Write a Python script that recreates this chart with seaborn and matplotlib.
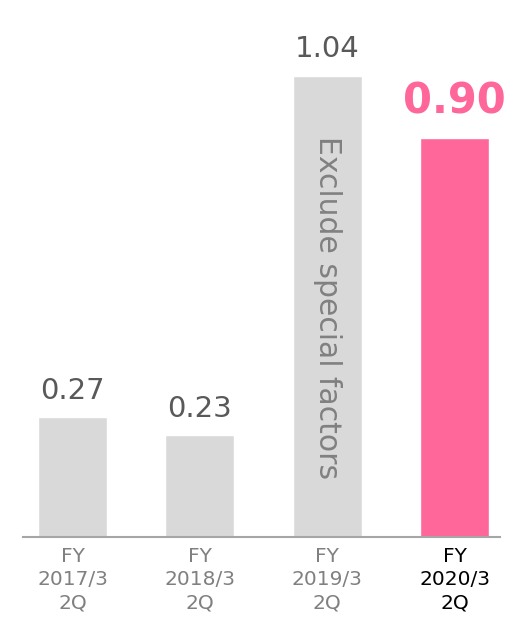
import matplotlib
matplotlib.use("Agg")
import matplotlib.pyplot as plt
import seaborn as sns
import pandas as pd

# Values
categories = ["FY\n2017/3\n2Q", "FY\n2018/3\n2Q", "FY\n2019/3\n2Q", "FY\n2020/3\n2Q"]
values = [0.27, 0.23, 1.04, 0.90]
value_labels = ["0.27", "0.23", "1.04", "0.90"]
note = "Exclude special factors"

gray_bar = "#d9d9d9"
pink = "#ff6699"
bar_colors = [gray_bar, gray_bar, gray_bar, pink]

sns.set_style("white")
plt.rcParams['font.family'] = ['DejaVu Sans']

df = pd.DataFrame({"period": categories, "eps": values})

fig = plt.figure(figsize=(5.22, 6.24), dpi=100)
ax = fig.add_axes([0.044, 0.1394, 0.914, 0.8606])

sns.barplot(data=df, x="period", y="eps", hue="period", palette=bar_colors,
            width=0.542, legend=False, ax=ax, saturation=1)

ax.set_xlim(-0.389, 3.357)
ax.set_ylim(0, 1.211)
ax.set_xlabel("")
ax.set_ylabel("")
ax.set_yticks([])

for s in ["top", "left", "right"]:
    ax.spines[s].set_visible(False)
ax.spines["bottom"].set_color("#a6a6a6")
ax.spines["bottom"].set_linewidth(1.5)

ax.tick_params(axis="x", length=0, pad=7, labelsize=14.5)
for i, lab in enumerate(ax.get_xticklabels()):
    lab.set_linespacing(1.28)
    lab.set_color("#000000" if i == 3 else "#808080")

# value labels
for i, (v, t) in enumerate(zip(values, value_labels)):
    if i == 3:
        ax.annotate(t, (i, v), xytext=(0, 11), textcoords="offset points",
                    ha="center", va="bottom", fontsize=30, fontweight="bold", color=pink)
    else:
        ax.annotate(t, (i, v), xytext=(0, 9), textcoords="offset points",
                    ha="center", va="bottom", fontsize=21, color="#595959")

# vertical note inside the 2019 bar
ax.text(2, values[2] * 0.497, note, rotation=-90, ha="center", va="center",
        fontsize=21.5, color="#808080")

fig.savefig("out.png", dpi=100)
